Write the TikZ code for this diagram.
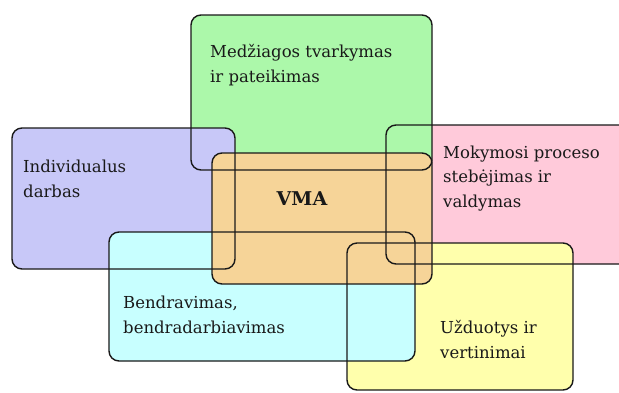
\documentclass[tikz,border=0pt]{standalone}
\usepackage{fontspec}
\setmainfont{DejaVu Serif}
\begin{document}
\begin{tikzpicture}[x=1pt,y=-1pt,
  area/.style={rounded corners=10pt},
  edge/.style={draw=black!90, line width=1.4pt, rounded corners=10pt},
  lbl/.style={anchor=base west, align=left, inner sep=0pt, font=\fontsize{16.5}{24.5}\selectfont, text=black!90}]
\definecolor{cgreen}{RGB}{172,248,170}
\definecolor{cblue}{RGB}{200,200,248}
\definecolor{corange}{RGB}{246,212,152}
\definecolor{cpink}{RGB}{255,202,218}
\definecolor{ccyan}{RGB}{200,255,255}
\definecolor{cyellow}{RGB}{255,255,172}
\useasboundingbox[fill=white] (0,0) rectangle (619,392);
% fills, back to front
\fill[cpink,area]   (386,125) rectangle (640,264);
\fill[cgreen,area]  (191,15)  rectangle (432,170);
\fill[cblue,area]   (12,128)  rectangle (235,269);
\fill[cyellow,area] (347,243) rectangle (573,390);
\fill[ccyan,area]   (109,232) rectangle (415,361);
\fill[corange,area] (212,153) rectangle (432,284);
% outlines on top of every fill
\draw[edge] (386,125) rectangle (640,264);
\draw[edge] (191,15)  rectangle (432,170);
\draw[edge] (12,128)  rectangle (235,269);
\draw[edge] (347,243) rectangle (573,390);
\draw[edge] (109,232) rectangle (415,361);
\draw[edge] (212,153) rectangle (432,284);
% labels (positions are the baselines of the last lines)
\node[lbl] (med) at (210,82) {Medžiagos tvarkymas\\ir pateikimas};
\node[lbl] (ind) at (23,197) {Individualus\\darbas};
\node[lbl] (mok) at (443,207) {Mokymosi proceso\\stebėjimas ir\\valdymas};
\node[lbl] (ben) at (123,333) {Bendravimas,\\bendradarbiavimas};
\node[lbl] (uzd) at (440,358) {Užduotys ir\\vertinimai};
\node[anchor=base, inner sep=0pt, font=\fontsize{19}{21}\bfseries\selectfont, text=black!90] (vma) at (302,205) {VMA};
\end{tikzpicture}
\end{document}
